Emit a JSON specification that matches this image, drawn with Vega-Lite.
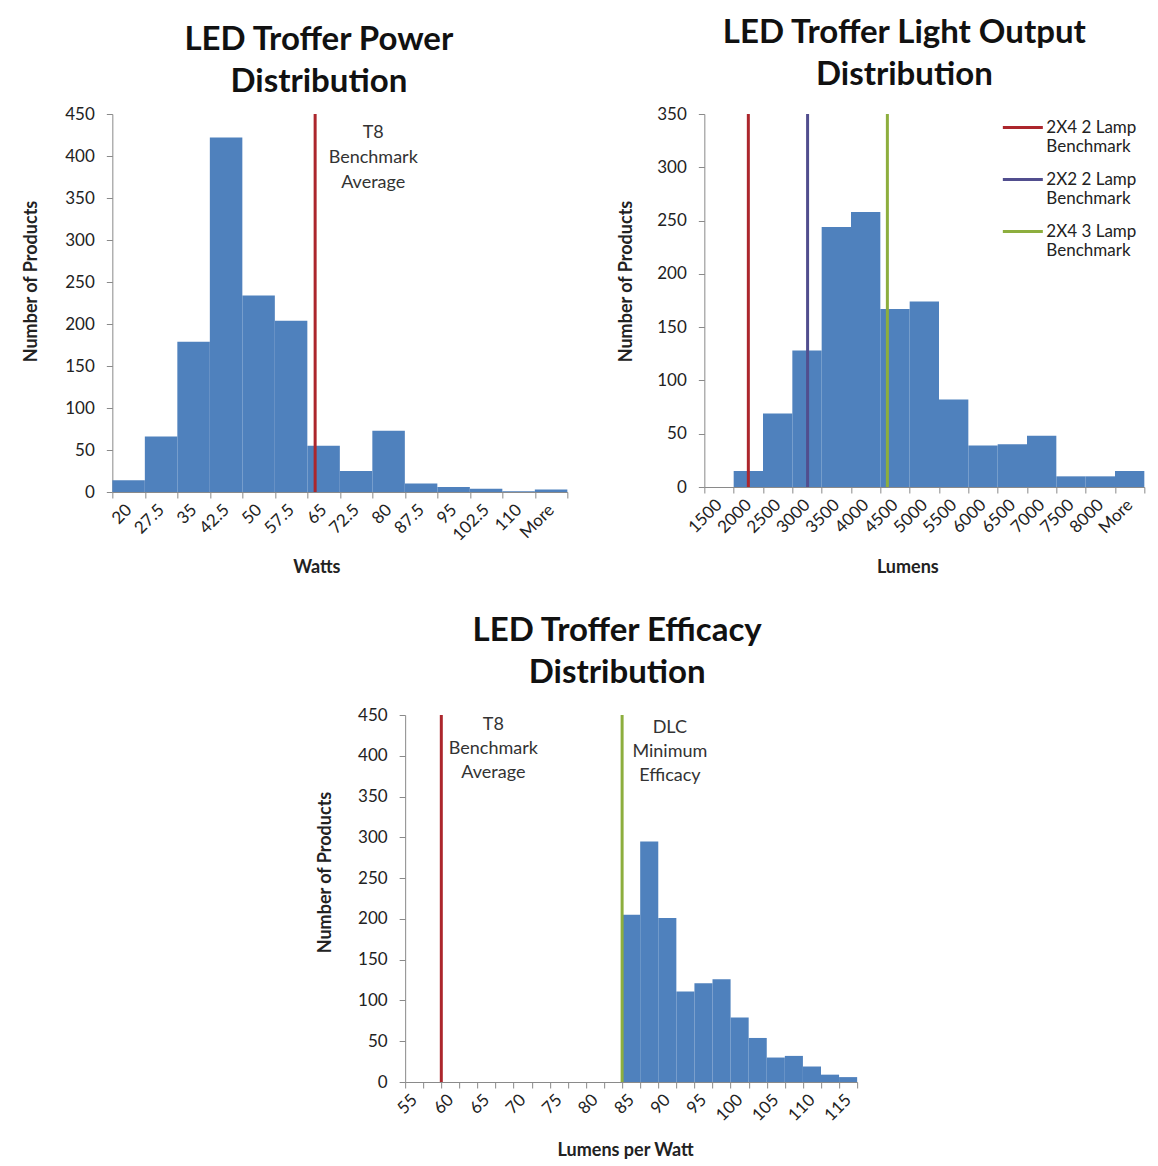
{
  "$schema": "https://vega.github.io/schema/vega-lite/v6.json",
  "background": "white",
  "padding": {"left": 22, "top": 17, "right": 5, "bottom": 5},
  "config": {
    "font": "Lato",
    "view": {"stroke": null},
    "title": {"font": "Lato", "fontSize": 33, "fontWeight": "bold", "color": "#111111", "lineHeight": 42, "offset": 6, "anchor": "middle"},
    "axis": {
      "labelFont": "Lato", "labelFontSize": 17, "labelColor": "#222222",
      "titleFont": "Lato", "titleFontSize": 18, "titleFontWeight": "bold", "titleColor": "#222222",
      "domainColor": "#8a8a8a", "tickColor": "#8a8a8a", "grid": false, "tickSize": 6, "labelOverlap": false
    },
    "axisY": {"labelPadding": 12, "titleAngle": -90, "titleBaseline": "middle", "titleAlign": "center"},
    "axisX": {"labelAngle": -45, "labelAlign": "right", "labelBaseline": "middle", "labelPadding": 9, "labelFlush": false, "labelOverlap": false, "labelBound": false, "titleBaseline": "middle", "titleAlign": "center"}
  },
  "datasets": {
    "power": [
      {"label": "20", "bin_start": 20, "bin_end": 27.5, "count": 14},
      {"label": "27.5", "bin_start": 27.5, "bin_end": 35, "count": 66},
      {"label": "35", "bin_start": 35, "bin_end": 42.5, "count": 179},
      {"label": "42.5", "bin_start": 42.5, "bin_end": 50, "count": 422},
      {"label": "50", "bin_start": 50, "bin_end": 57.5, "count": 234},
      {"label": "57.5", "bin_start": 57.5, "bin_end": 65, "count": 204},
      {"label": "65", "bin_start": 65, "bin_end": 72.5, "count": 55},
      {"label": "72.5", "bin_start": 72.5, "bin_end": 80, "count": 25},
      {"label": "80", "bin_start": 80, "bin_end": 87.5, "count": 73},
      {"label": "87.5", "bin_start": 87.5, "bin_end": 95, "count": 10},
      {"label": "95", "bin_start": 95, "bin_end": 102.5, "count": 6},
      {"label": "102.5", "bin_start": 102.5, "bin_end": 110, "count": 4},
      {"label": "110", "bin_start": 110, "bin_end": 117.5, "count": 1},
      {"label": "More", "bin_start": 117.5, "bin_end": 125, "count": 3}
    ],
    "power_lines": [
      {"benchmark": "T8 Benchmark Average", "value": 66.8}
    ],
    "power_notes": [
      {"note": "T8\nBenchmark\nAverage", "x": 80.2, "y": 427}
    ],
    "lumens": [
      {"label": "1500", "bin_start": 1500, "bin_end": 2000, "count": 0},
      {"label": "2000", "bin_start": 2000, "bin_end": 2500, "count": 15},
      {"label": "2500", "bin_start": 2500, "bin_end": 3000, "count": 69},
      {"label": "3000", "bin_start": 3000, "bin_end": 3500, "count": 128},
      {"label": "3500", "bin_start": 3500, "bin_end": 4000, "count": 244},
      {"label": "4000", "bin_start": 4000, "bin_end": 4500, "count": 258},
      {"label": "4500", "bin_start": 4500, "bin_end": 5000, "count": 167},
      {"label": "5000", "bin_start": 5000, "bin_end": 5500, "count": 174},
      {"label": "5500", "bin_start": 5500, "bin_end": 6000, "count": 82},
      {"label": "6000", "bin_start": 6000, "bin_end": 6500, "count": 39},
      {"label": "6500", "bin_start": 6500, "bin_end": 7000, "count": 40},
      {"label": "7000", "bin_start": 7000, "bin_end": 7500, "count": 48},
      {"label": "7500", "bin_start": 7500, "bin_end": 8000, "count": 10},
      {"label": "8000", "bin_start": 8000, "bin_end": 8500, "count": 10},
      {"label": "More", "bin_start": 8500, "bin_end": 9000, "count": 15}
    ],
    "lumen_lines": [
      {"benchmark": "2X4 2 Lamp Benchmark", "value": 2250},
      {"benchmark": "2X2 2 Lamp Benchmark", "value": 3260},
      {"benchmark": "2X4 3 Lamp Benchmark", "value": 4620}
    ],
    "efficacy": [
      {"label": "85", "bin_start": 85, "bin_end": 87.5, "count": 205},
      {"label": "87.5", "bin_start": 87.5, "bin_end": 90, "count": 295},
      {"label": "90", "bin_start": 90, "bin_end": 92.5, "count": 201},
      {"label": "92.5", "bin_start": 92.5, "bin_end": 95, "count": 111},
      {"label": "95", "bin_start": 95, "bin_end": 97.5, "count": 121},
      {"label": "97.5", "bin_start": 97.5, "bin_end": 100, "count": 126},
      {"label": "100", "bin_start": 100, "bin_end": 102.5, "count": 79},
      {"label": "102.5", "bin_start": 102.5, "bin_end": 105, "count": 54},
      {"label": "105", "bin_start": 105, "bin_end": 107.5, "count": 30},
      {"label": "107.5", "bin_start": 107.5, "bin_end": 110, "count": 32},
      {"label": "110", "bin_start": 110, "bin_end": 112.5, "count": 19},
      {"label": "112.5", "bin_start": 112.5, "bin_end": 115, "count": 9},
      {"label": "115", "bin_start": 115, "bin_end": 117.5, "count": 6}
    ],
    "efficacy_lines": [
      {"benchmark": "T8 Benchmark Average", "value": 60},
      {"benchmark": "DLC Minimum Efficacy", "value": 85}
    ],
    "efficacy_notes": [
      {"note": "T8\nBenchmark\nAverage", "x": 67.2, "y": 438},
      {"note": "DLC\nMinimum\nEfficacy", "x": 91.6, "y": 434}
    ]
  },
  "center": true,
  "spacing": 39,
  "resolve": {"scale": {"color": "independent"}, "legend": {"color": "independent"}},
  "vconcat": [
    {
      "spacing": 28,
      "resolve": {"scale": {"color": "independent"}, "legend": {"color": "independent"}},
      "hconcat": [
        {
          "width": 455,
          "height": 378,
          "title": {"text": ["LED Troffer Power", "Distribution"], "dx": -21},
          "layer": [
            {
              "data": {"name": "power"},
              "mark": {"type": "rect", "color": "#4F81BD"},
              "encoding": {
                "x": {"field": "bin_start", "type": "quantitative",
                      "scale": {"domain": [20, 125], "nice": false, "zero": false},
                      "axis": {"title": "Watts", "values": [20, 27.5, 35, 42.5, 50, 57.5, 65, 72.5, 80, 87.5, 95, 102.5, 110, 117.5, 125],
                               "labelOffset": 16.25, "labelOverlap": false,
                               "labelExpr": "datum.value >= 125 ? '' : (datum.value >= 117.5 ? 'More' : '' + datum.value)",
                               "titleX": 204, "titleY": 75}},
                "x2": {"field": "bin_end"},
                "y": {"field": "count", "type": "quantitative",
                      "scale": {"domain": [0, 450], "nice": false},
                      "axis": {"title": "Number of Products", "values": [0, 50, 100, 150, 200, 250, 300, 350, 400, 450], "titleX": -81, "titleY": 167}},
                "y2": {"datum": 0}
              }
            },
            {
              "data": {"name": "power_lines"},
              "mark": {"type": "rule", "strokeWidth": 3},
              "encoding": {
                "x": {"field": "value", "type": "quantitative",
                      "axis": {"title": "Watts", "values": [20, 27.5, 35, 42.5, 50, 57.5, 65, 72.5, 80, 87.5, 95, 102.5, 110, 117.5, 125],
                               "labelOffset": 16.25, "labelOverlap": false,
                               "labelExpr": "datum.value >= 125 ? '' : (datum.value >= 117.5 ? 'More' : '' + datum.value)",
                               "titleX": 204, "titleY": 75}},
                "color": {"field": "benchmark", "type": "nominal", "legend": null,
                          "scale": {"domain": ["T8 Benchmark Average"], "range": ["#AC262C"]}}
              }
            },
            {
              "data": {"name": "power_notes"},
              "mark": {"type": "text", "fontSize": 18, "lineBreak": "\n", "lineHeight": 25, "align": "center", "baseline": "middle", "color": "#333333"},
              "encoding": {
                "x": {"field": "x", "type": "quantitative",
                      "axis": {"title": "Watts", "values": [20, 27.5, 35, 42.5, 50, 57.5, 65, 72.5, 80, 87.5, 95, 102.5, 110, 117.5, 125],
                               "labelOffset": 16.25, "labelOverlap": false,
                               "labelExpr": "datum.value >= 125 ? '' : (datum.value >= 117.5 ? 'More' : '' + datum.value)",
                               "titleX": 204, "titleY": 75}},
                "y": {"field": "y", "type": "quantitative"},
                "text": {"field": "note"}
              }
            }
          ]
        },
        {
          "width": 440,
          "height": 373,
          "title": {"text": ["LED Troffer Light Output", "Distribution"], "dx": -20, "offset": 13},
          "layer": [
            {
              "data": {"name": "lumens"},
              "mark": {"type": "rect", "color": "#4F81BD"},
              "encoding": {
                "x": {"field": "bin_start", "type": "quantitative",
                      "scale": {"domain": [1500, 9000], "nice": false, "zero": false},
                      "axis": {"title": "Lumens", "values": [1500, 2000, 2500, 3000, 3500, 4000, 4500, 5000, 5500, 6000, 6500, 7000, 7500, 8000, 8500, 9000],
                               "labelOffset": 14.67, "labelOverlap": false,
                               "labelExpr": "datum.value >= 9000 ? '' : (datum.value >= 8500 ? 'More' : '' + datum.value)",
                               "titleX": 203, "titleY": 80}},
                "x2": {"field": "bin_end"},
                "y": {"field": "count", "type": "quantitative",
                      "scale": {"domain": [0, 350], "nice": false},
                      "axis": {"title": "Number of Products", "values": [0, 50, 100, 150, 200, 250, 300, 350], "titleX": -78, "titleY": 167}},
                "y2": {"datum": 0}
              }
            },
            {
              "data": {"name": "lumen_lines"},
              "mark": {"type": "rule", "strokeWidth": 3},
              "encoding": {
                "x": {"field": "value", "type": "quantitative",
                      "axis": {"title": "Lumens", "values": [1500, 2000, 2500, 3000, 3500, 4000, 4500, 5000, 5500, 6000, 6500, 7000, 7500, 8000, 8500, 9000],
                               "labelOffset": 14.67, "labelOverlap": false,
                               "labelExpr": "datum.value >= 9000 ? '' : (datum.value >= 8500 ? 'More' : '' + datum.value)",
                               "titleX": 203, "titleY": 80}},
                "color": {"field": "benchmark", "type": "nominal",
                          "scale": {"domain": ["2X4 2 Lamp Benchmark", "2X2 2 Lamp Benchmark", "2X4 3 Lamp Benchmark"], "range": ["#AC262C", "#514E8E", "#8DAE3E"]},
                          "legend": {"title": null, "orient": "none", "legendX": 297, "legendY": -8,
                                     "symbolType": "stroke", "symbolSize": 1600, "symbolStrokeWidth": 3,
                                     "labelFont": "Lato", "labelFontSize": 17, "labelColor": "#222222", "labelOffset": 2,
                                     "labelExpr": "[replace(datum.label, ' Benchmark', ''), 'Benchmark']",
                                     "rowPadding": 3}}
              }
            }
          ]
        }
      ]
    },
    {
      "width": 452,
      "height": 367,
      "title": {"text": ["LED Troffer Efficacy", "Distribution"], "dx": -14, "offset": 16},
      "layer": [
        {
          "data": {"name": "efficacy"},
          "mark": {"type": "rect", "color": "#4F81BD"},
          "encoding": {
            "x": {"field": "bin_start", "type": "quantitative",
                  "scale": {"domain": [55, 117.5], "nice": false, "zero": false},
                  "axis": {"title": "Lumens per Watt", "values": [55, 57.5, 60, 62.5, 65, 67.5, 70, 72.5, 75, 77.5, 80, 82.5, 85, 87.5, 90, 92.5, 95, 97.5, 100, 102.5, 105, 107.5, 110, 112.5, 115, 117.5],
                           "labelOffset": 9.04, "labelOverlap": false,
                           "labelExpr": "((datum.value - 55) % 5 == 0 && datum.value < 117) ? '' + datum.value : ''",
                           "titleX": 220, "titleY": 68}},
            "x2": {"field": "bin_end"},
            "y": {"field": "count", "type": "quantitative",
                  "scale": {"domain": [0, 450], "nice": false},
                  "axis": {"title": "Number of Products", "values": [0, 50, 100, 150, 200, 250, 300, 350, 400, 450], "titleX": -80, "titleY": 157}},
            "y2": {"datum": 0}
          }
        },
        {
          "data": {"name": "efficacy_lines"},
          "mark": {"type": "rule", "strokeWidth": 3},
          "encoding": {
            "x": {"field": "value", "type": "quantitative",
                  "axis": {"title": "Lumens per Watt", "values": [55, 57.5, 60, 62.5, 65, 67.5, 70, 72.5, 75, 77.5, 80, 82.5, 85, 87.5, 90, 92.5, 95, 97.5, 100, 102.5, 105, 107.5, 110, 112.5, 115, 117.5],
                           "labelOffset": 9.04, "labelOverlap": false,
                           "labelExpr": "((datum.value - 55) % 5 == 0 && datum.value < 117) ? '' + datum.value : ''",
                           "titleX": 220, "titleY": 68}},
            "color": {"field": "benchmark", "type": "nominal", "legend": null,
                      "scale": {"domain": ["T8 Benchmark Average", "DLC Minimum Efficacy"], "range": ["#AC262C", "#8DAE3E"]}}
          }
        },
        {
          "data": {"name": "efficacy_notes"},
          "mark": {"type": "text", "fontSize": 18, "lineBreak": "\n", "lineHeight": 24, "align": "center", "baseline": "middle", "color": "#333333"},
          "encoding": {
            "x": {"field": "x", "type": "quantitative",
                  "axis": {"title": "Lumens per Watt", "values": [55, 57.5, 60, 62.5, 65, 67.5, 70, 72.5, 75, 77.5, 80, 82.5, 85, 87.5, 90, 92.5, 95, 97.5, 100, 102.5, 105, 107.5, 110, 112.5, 115, 117.5],
                           "labelOffset": 9.04, "labelOverlap": false,
                           "labelExpr": "((datum.value - 55) % 5 == 0 && datum.value < 117) ? '' + datum.value : ''",
                           "titleX": 220, "titleY": 68}},
            "y": {"field": "y", "type": "quantitative"},
            "text": {"field": "note"}
          }
        }
      ]
    }
  ]
}
